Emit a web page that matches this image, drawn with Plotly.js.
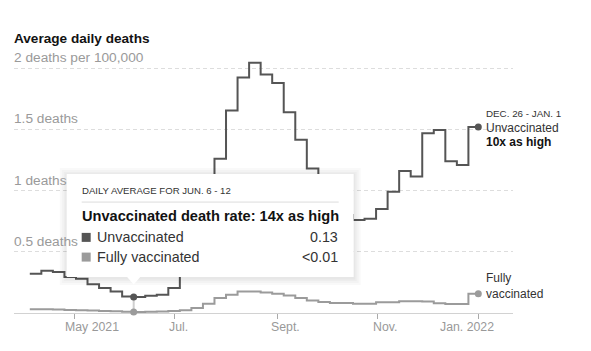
<!DOCTYPE html>
<html><head><meta charset="utf-8">
<script src="https://cdn.plot.ly/plotly-3.0.1.min.js"></script>
<style>html,body{margin:0;padding:0;background:#fff;} #chart{width:591px;height:351px;}</style>
</head><body><div id="chart"></div>
<script>
// ---- data ----
const weekStart = ['2021-04-04','2021-04-11','2021-04-18','2021-04-25','2021-05-02','2021-05-09','2021-05-16','2021-05-23','2021-05-30','2021-06-06','2021-06-13','2021-06-20','2021-06-27','2021-07-04','2021-07-11','2021-07-18','2021-07-25','2021-08-01','2021-08-08','2021-08-15','2021-08-22','2021-08-29','2021-09-05','2021-09-12','2021-09-19','2021-09-26','2021-10-03','2021-10-10','2021-10-17','2021-10-24','2021-10-31','2021-11-07','2021-11-14','2021-11-21','2021-11-28','2021-12-05','2021-12-12','2021-12-19','2021-12-26'];
const periodEnd = '2022-01-01';
const unvaccinated = [0.32,0.345,0.335,0.295,0.28,0.235,0.205,0.175,0.135,0.13,0.14,0.15,0.205,0.42,0.68,0.98,1.26,1.655,1.925,2.045,1.95,1.88,1.64,1.415,1.18,1.02,0.9,0.8,0.76,0.77,0.85,0.99,1.16,1.115,1.47,1.495,1.24,1.21,1.52];
const fullyVaccinated = [0.03,0.03,0.028,0.025,0.022,0.02,0.017,0.014,0.011,0.009,0.01,0.013,0.016,0.022,0.041,0.076,0.122,0.149,0.175,0.176,0.168,0.158,0.144,0.122,0.103,0.09,0.082,0.082,0.076,0.076,0.087,0.087,0.096,0.096,0.095,0.08,0.073,0.073,0.158];
const xTickDates = ['2021-05-01','2021-07-01','2021-09-01','2021-11-01','2022-01-01'];
const xTickLabels = ['May 2021','Jul.','Sept.','Nov.','Jan. 2022'];
const yTickVals = [0.5,1,1.5,2];
const yTickLabels = ['0.5 deaths','1 deaths','1.5 deaths','2 deaths per 100,000'];
const seriesNames = ['Unvaccinated','Fully vaccinated'];
const endLabelVaccinated = 'Fully<br>vaccinated';
const highlightIndex = 9;
const highlightPeriod = 'JUN. 6 - 12';
const highlightValueText = ['0.13','<0.01'];
const highlightRatio = '14x';
const endPeriod = 'DEC. 26 - JAN. 1';
const endRatio = '10x';
const chartTitle = 'Average daily deaths';

// ---- style ----
const FONT = 'Liberation Sans, Arial, sans-serif';
const DARK = '#555555', LIGHT = '#9b9b9b', TXT = '#333333';
const xLabelShift = [17.7, 3.6, 8.8, 7.4, -11.5];

const xs = weekStart.concat([periodEnd]);
const uY = unvaccinated.concat([unvaccinated[unvaccinated.length-1]]);
const vY = fullyVaccinated.concat([fullyVaccinated[fullyVaccinated.length-1]]);
const hx = weekStart[highlightIndex], hy = unvaccinated[highlightIndex], hv = fullyVaccinated[highlightIndex];
const lastU = unvaccinated[unvaccinated.length-1], lastV = fullyVaccinated[fullyVaccinated.length-1];

const traces = [
  {x: xs, y: vY, type:'scatter', mode:'lines', line:{shape:'hv', color:LIGHT, width:2}, hoverinfo:'skip'},
  {x: xs, y: uY, type:'scatter', mode:'lines', line:{shape:'hv', color:DARK, width:2}, hoverinfo:'skip'},
  {x: [hx, hx], y: [hy, hv], type:'scatter', mode:'lines', line:{color:'#cfcfcf', width:2}, hoverinfo:'skip'},
  {x: [hx, periodEnd], y: [hv, lastV], type:'scatter', mode:'markers', marker:{color:LIGHT, size:7}, cliponaxis:false, hoverinfo:'skip'},
  {x: [hx, periodEnd], y: [hy, lastU], type:'scatter', mode:'markers', marker:{color:DARK, size:7}, cliponaxis:false, hoverinfo:'skip'}
];

function tip(o){ return Object.assign({xref:'x', yref:'y', xsizemode:'pixel', ysizemode:'pixel', xanchor:hx, yanchor:hy, layer:'above'}, o); }
const shapes = [];
[7,5,3,1.5].forEach(s => shapes.push(tip({type:'rect', x0:-67-s, x1:220+s, y0:20-s-1, y1:123+s-1, fillcolor:'rgba(0,0,0,0.025)', line:{width:0}})));
shapes.push(tip({type:'rect', x0:-67, x1:220, y0:20, y1:123, fillcolor:'#ffffff', line:{width:0}}));
shapes.push(tip({type:'path', path:'M -7,20.5 L 7,20.5 L 0,12.5 Z', fillcolor:'#ffffff', line:{width:0}}));
shapes.push(tip({type:'line', x0:-52, x1:205, y0:95, y1:95, line:{color:'#dcdcdc', width:1}}));
shapes.push(tip({type:'rect', x0:-52, x1:-43, y0:55.2, y1:64.2, fillcolor:DARK, line:{width:0}}));
shapes.push(tip({type:'rect', x0:-52, x1:-43, y0:35.5, y1:44.5, fillcolor:LIGHT, line:{width:0}}));

function tipText(text, dx, dy, size, anchor, color){
  return {x:hx, y:hy, xref:'x', yref:'y', text:text, showarrow:false, xanchor:anchor||'left', yanchor:'middle',
    xshift:dx, yshift:dy, font:{family:FONT, size:size, color:color||TXT}};
}
const ann = [];
ann.push(tipText('DAILY AVERAGE FOR ' + highlightPeriod, -54, 106.7, 9.6));
ann.push(tipText('<b>Unvaccinated death rate: ' + highlightRatio + ' as high</b>', -54, 80.7, 14.6, 'left', '#121212'));
ann.push(tipText(seriesNames[0], -38.4, 59.7, 14.3));
ann.push(tipText(seriesNames[1], -38.4, 40, 14.3));
ann.push(tipText(highlightValueText[0], 206.6, 59.7, 14.3, 'right'));
ann.push(tipText(highlightValueText[1], 206.6, 40, 14.3, 'right'));

yTickVals.forEach((v,i) => ann.push({x:0, xref:'paper', y:v, yref:'y', text:yTickLabels[i], showarrow:false,
  xanchor:'left', yanchor:'bottom', xshift:-2, yshift:1, font:{family:FONT, size:13.7, color:'#9a9a9a'}}));
xTickDates.forEach((d,i) => ann.push({x:d, xref:'x', y:0, yref:'paper', text:xTickLabels[i], showarrow:false,
  xanchor:'center', yanchor:'middle', xshift:xLabelShift[i], yshift:-14, font:{family:FONT, size:12.3, color:'#999999'}}));

function endText(text, yv, dy, size, color){
  return {x:periodEnd, y:yv, xref:'x', yref:'y', text:text, showarrow:false, xanchor:'left', yanchor:'middle', align:'left',
    xshift:6, yshift:dy, font:{family:FONT, size:size, color:color||TXT}};
}
ann.push(endText(endPeriod, lastU, 13.4, 9.8));
ann.push(endText(seriesNames[0], lastU, -0.5, 12));
ann.push(endText('<b>' + endRatio + ' as high</b>', lastU, -15, 12, '#121212'));
ann.push(endText(endLabelVaccinated, lastV, 8, 12));

const layout = {
  width:591, height:351,
  margin:{l:14, r:78, t:58, b:38},
  paper_bgcolor:'#ffffff', plot_bgcolor:'#ffffff',
  showlegend:false, hovermode:false,
  font:{family:FONT, color:TXT},
  title:{text:'<b>'+chartTitle+'</b>', font:{family:FONT, size:13.6, color:'#121212'},
    x:0, xref:'paper', xanchor:'left', y:1-37.8/351, yref:'container', yanchor:'middle'},
  xaxis:{type:'date', range:['2021-03-25 10:00','2022-01-22 01:00'], tickvals:xTickDates, ticktext:xTickLabels,
    showticklabels:false, ticks:'outside', ticklen:5, tickcolor:'#aaaaaa', tickwidth:1,
    showgrid:false, zeroline:false, showline:false, fixedrange:true},
  yaxis:{range:[0, 2.084], tickvals:yTickVals, showticklabels:false, showgrid:true, gridcolor:'#dddddd',
    griddash:'4px,3px', gridwidth:1, zeroline:true, zerolinecolor:'#d2d2d2', zerolinewidth:1, showline:false, ticks:'', fixedrange:true},
  shapes:shapes,
  annotations:ann
};
Plotly.newPlot('chart', traces, layout, {displayModeBar:false, staticPlot:true});
</script></body></html>
